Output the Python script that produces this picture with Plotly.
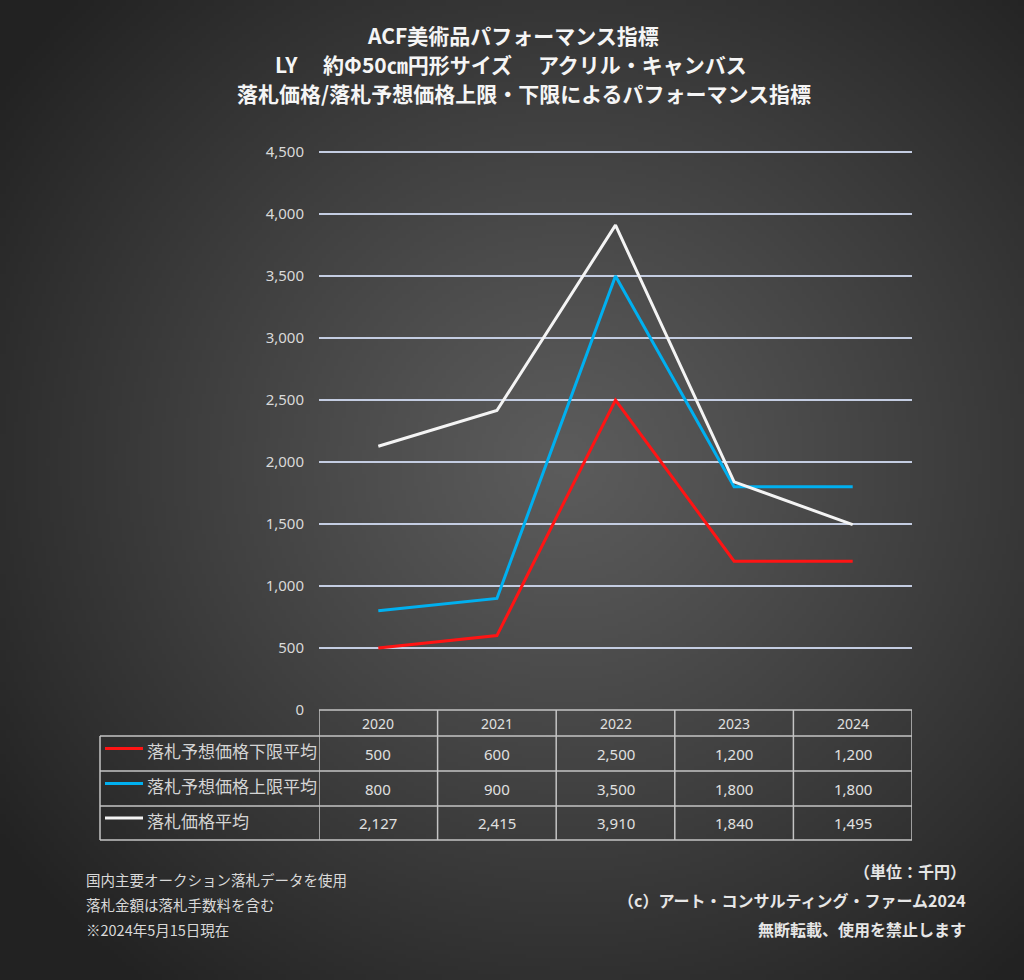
import numpy as np, zlib, struct, base64
import plotly.graph_objects as go

# ---------------- data ----------------
years = ["2020", "2021", "2022", "2023", "2024"]
low_avg = [500, 600, 2500, 1200, 1200]
high_avg = [800, 900, 3500, 1800, 1800]
price_avg = [2127, 2415, 3910, 1840, 1495]
series_names = ["落札予想価格下限平均", "落札予想価格上限平均", "落札価格平均"]
series_values = [low_avg, high_avg, price_avg]
series_colors = ["#ff1414", "#00b0f0", "#f4f4f4"]
y_ticks = [0, 500, 1000, 1500, 2000, 2500, 3000, 3500, 4000, 4500]
title_lines = ["ACF美術品パフォーマンス指標",
               "LY　 約Φ50㎝円形サイズ　 アクリル・キャンバス",
               "落札価格/落札予想価格上限・下限によるパフォーマンス指標"]
notes_left = ["国内主要オークション落札データを使用", "落札金額は落札手数料を含む", "※2024年5月15日現在"]
notes_right = ["（単位：千円）", "（c）アート・コンサルティング・ファーム2024", "無断転載、使用を禁止します"]

W, H = 1024, 980
def px(x): return x / W
def py(y): return 1 - y / H

# ---------------- background radial gradient as PNG ----------------
def make_png(arr):
    h, w, _ = arr.shape
    raw = b"".join(b"\x00" + arr[i].tobytes() for i in range(h))
    def chunk(t, d):
        c = struct.pack(">I", len(d)) + t + d
        return c + struct.pack(">I", zlib.crc32(t + d) & 0xffffffff)
    png = b"\x89PNG\r\n\x1a\n" + chunk(b"IHDR", struct.pack(">IIBBBBB", w, h, 8, 2, 0, 0, 0))
    png += chunk(b"IDAT", zlib.compress(raw, 9)) + chunk(b"IEND", b"")
    return "data:image/png;base64," + base64.b64encode(png).decode()

gw, gh = 256, 245
yy, xx = np.mgrid[0:gh, 0:gw]
cx, cy = gw * 0.55, gh * 0.47
d = np.sqrt(((xx - cx) / (gw * 0.68)) ** 2 + ((yy - cy) / (gh * 0.68)) ** 2)
t = np.clip(d, 0, 1) ** 1.1
c_in, c_out = 0x5c, 0x22
v = (c_in + (c_out - c_in) * t).astype(np.uint8)
img = np.stack([v, v, v], axis=-1)
bg_src = make_png(img)

# ---------------- figure ----------------
fig = go.Figure()
xs = list(range(len(years)))
for name, vals, col in zip(series_names, series_values, series_colors):
    fig.add_trace(go.Scatter(x=xs, y=vals, mode="lines", name=name,
                             line=dict(color=col, width=3), showlegend=False))

y_top_px, y_bot_px = 150, 710
y_max = 4500 * (y_bot_px - y_top_px) / (y_bot_px - 152)

fig.update_layout(
    width=W, height=H, autosize=False, margin=dict(l=0, r=0, t=0, b=0, pad=0),
    showlegend=False,
    paper_bgcolor="#2a2a2a", plot_bgcolor="rgba(0,0,0,0)",
    images=[dict(source=bg_src, xref="paper", yref="paper", x=0, y=1, sizex=1, sizey=1,
                 xanchor="left", yanchor="top", sizing="stretch", layer="below")],
    xaxis=dict(domain=[px(319), px(912)], range=[-0.5, len(years) - 0.5], automargin=False,
               showgrid=False, zeroline=False, showticklabels=False, showline=False, fixedrange=True),
    yaxis=dict(domain=[py(y_bot_px), py(y_top_px)], range=[0, y_max], tickvals=y_ticks, automargin=False,
               ticktext=[f"{v:,}" for v in y_ticks], showgrid=True, gridcolor="#c4cde2", gridwidth=2,
               zeroline=False, showline=False, ticklabelstandoff=14,
               tickfont=dict(family="Noto Sans", size=15, color="#d9d9d9")),
)

# titles
title_cx = [513, 511, 524]
for i, tl in enumerate(title_lines):
    fig.add_annotation(text=f"<b>{tl}</b>", x=px(title_cx[i]), y=py(35 + i * 29), xref="paper", yref="paper",
                       showarrow=False, xanchor="center", yanchor="middle",
                       font=dict(family="Noto Sans CJK JP", size=21, color="#f5f5f5"))

# ---------------- data table ----------------
line_col = "#c4c4c4"
row_y = [710, 736, 771, 806, 840]
left_x = 100
fig.add_shape(type="line", xref="x", yref="paper", x0=-0.5, x1=len(years) - 0.5,
              y0=py(row_y[0]), y1=py(row_y[0]), line=dict(color=line_col, width=1.5))
for ry in row_y[1:]:
    fig.add_shape(type="line", xref="paper", yref="paper", x0=px(left_x), x1=px(912),
                  y0=py(ry), y1=py(ry), line=dict(color=line_col, width=1.5))
for i in range(len(years) + 1):
    fig.add_shape(type="line", xref="x", yref="paper", x0=i - 0.5, x1=i - 0.5,
                  y0=py(row_y[0]), y1=py(row_y[-1]), line=dict(color=line_col, width=1.5))
fig.add_shape(type="line", xref="paper", yref="paper", x0=px(left_x), x1=px(left_x),
              y0=py(row_y[1]), y1=py(row_y[-1]), line=dict(color=line_col, width=1.5))

for i, yr in enumerate(years):
    fig.add_annotation(text=yr, x=i, y=py((row_y[0] + row_y[1]) / 2), xref="x", yref="paper",
                       showarrow=False, yanchor="middle",
                       font=dict(family="Noto Sans", size=14, color="#e0e0e0"))
for r, (name, vals, col) in enumerate(zip(series_names, series_values, series_colors)):
    yc = (row_y[r + 1] + row_y[r + 2]) / 2
    for i, v in enumerate(vals):
        fig.add_annotation(text=f"{v:,}", x=i, y=py(yc), xref="x", yref="paper",
                           showarrow=False, yanchor="middle",
                           font=dict(family="Noto Sans", size=15, color="#e0e0e0"))
    fig.add_shape(type="line", xref="paper", yref="paper", x0=px(105), x1=px(143),
                  y0=py(yc - 5), y1=py(yc - 5), line=dict(color=col, width=3))
    fig.add_annotation(text=name, x=px(145), y=py(yc - 3), xref="paper", yref="paper",
                       showarrow=False, xanchor="left", yanchor="middle",
                       font=dict(family="Noto Sans CJK JP", size=17, color="#d4d4d4"))

for i, tx in enumerate(notes_left):
    fig.add_annotation(text=tx, x=px(84), y=py(879 + i * 25), xref="paper", yref="paper",
                       showarrow=False, xanchor="left", yanchor="middle",
                       font=dict(family="Noto Sans CJK JP", size=14.5, color="#d9d9d9"))
for i, tx in enumerate(notes_right):
    fig.add_annotation(text=f"<b>{tx}</b>", x=px(968), y=py(871 + i * 29), xref="paper", yref="paper",
                       showarrow=False, xanchor="right", yanchor="middle",
                       font=dict(family="Noto Sans CJK JP", size=16, color="#e6e6e6"))

fig.write_html("out.html")
